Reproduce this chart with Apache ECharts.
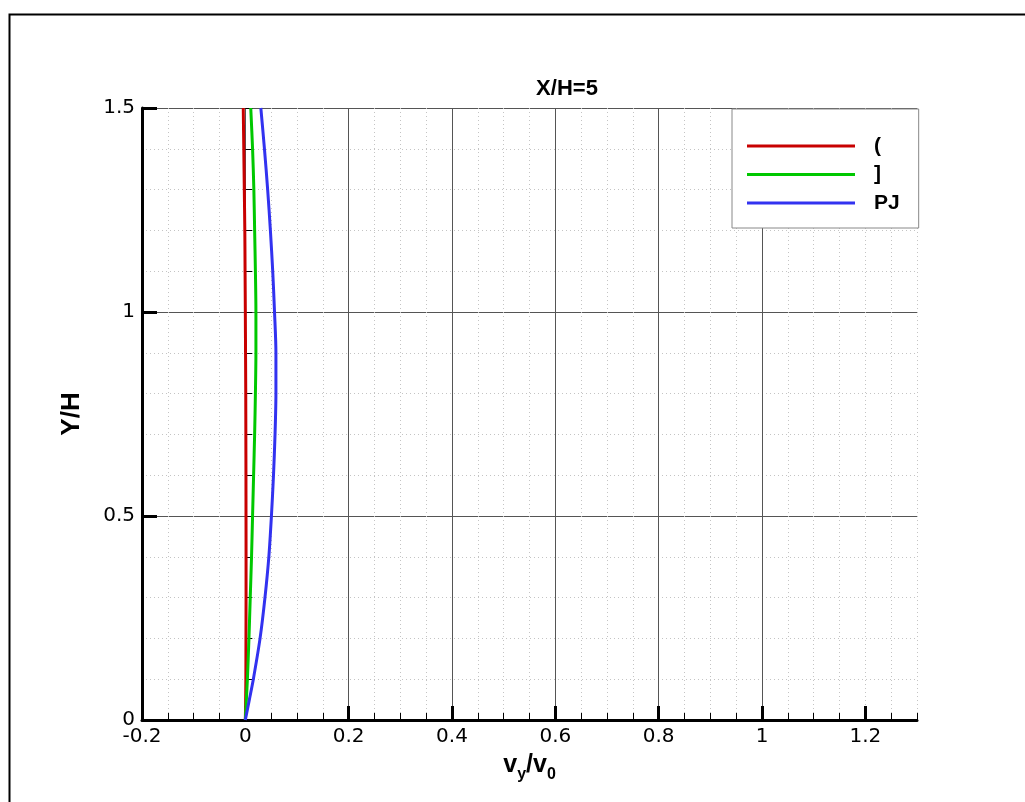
<!DOCTYPE html>
<html>
<head>
<meta charset="utf-8">
<script src="https://cdn.jsdelivr.net/npm/echarts@6/dist/echarts.min.js"></script>
<style>html,body{margin:0;padding:0;background:#fff;}#c{width:1025px;height:802px;}</style>
</head>
<body>
<div id="c"></div>
<script>
// ---- data ----
const titleText = 'X/H=5';
const seriesNames = ['(', ']', 'PJ'];
const yValues = [0, 0.05, 0.1, 0.2, 0.3, 0.4, 0.5, 0.6, 0.7, 0.8, 0.9, 1.0, 1.1, 1.2, 1.3, 1.4, 1.5];
const redX   = [0, 0.0006, 0.001, 0.0012, 0.0014, 0.0014, 0.0013, 0.0012, 0.001, 0.0008, 0.0004, 0.0, -0.0005, -0.001, -0.002, -0.003, -0.004];
const greenX = [0, 0.002, 0.004, 0.007, 0.0095, 0.012, 0.014, 0.016, 0.018, 0.0195, 0.0205, 0.0205, 0.0195, 0.018, 0.0165, 0.014, 0.0105];
const blueX  = [0, 0.0078, 0.0155, 0.0285, 0.038, 0.0455, 0.0505, 0.0545, 0.0575, 0.0592, 0.0592, 0.0565, 0.053, 0.0485, 0.0432, 0.037, 0.030];
const xMajorTicks = [-0.2, 0, 0.2, 0.4, 0.6, 0.8, 1, 1.2];

const colors = ['#c80000', '#00c800', '#3232f0'];
const font = 'Liberation Sans, Arial, Helvetica, sans-serif';
const tickFont = 'DejaVu Sans, Liberation Sans, sans-serif';

function pairs(xs) { return xs.map((x, i) => [x, yValues[i]]); }

const chart = echarts.init(document.getElementById('c'), null, {renderer: 'canvas'});
const grid = {left: 142, top: 108, width: 775, height: 612, containLabel: false};

const option = {
  animation: false,
  backgroundColor: '#ffffff',
  title: {
    text: titleText, left: 562, top: 73, textAlign: 'center',
    textStyle: {fontFamily: font, fontWeight: 'bold', fontSize: 22, color: '#000'}
  },
  graphic: [{
    type: 'rect', left: 7, top: 12, silent: true, z: 100,
    shape: {width: 1100, height: 900},
    style: {fill: 'none', stroke: '#000', lineWidth: 2}
  }],
  legend: {
    orient: 'vertical', left: 732, top: 109,
    padding: [25, 19, 13, 15],
    icon: 'rect',
    itemWidth: 108, itemHeight: 3, itemGap: 4.5,
    backgroundColor: '#fff', borderColor: '#888', borderWidth: 1,
    textStyle: {fontFamily: font, fontWeight: 'bold', fontSize: 21, color: '#000', lineHeight: 24, padding: [0, 0, 0, 14]},
    data: seriesNames
  },
  grid: grid,
  xAxis: [
    { // minor
      type: 'value', min: -0.2, max: 1.3, interval: 0.05, position: 'bottom',
      axisLine: {show: false},
      axisLabel: {show: false},
      axisTick: {show: true, inside: true, length: 7, lineStyle: {color: '#000', width: 1}},
      splitLine: {show: true, showMinLine: false, lineStyle: {color: '#c4c4c4', type: [1, 3], width: 1}}
    },
    { // major
      type: 'value', min: -0.2, max: 1.3, interval: 0.2, position: 'bottom',
      name: '{a|v}{b|y}{a|/v}{b|0}', nameLocation: 'middle', nameGap: 30,
      nameTextStyle: {
        rich: {
          a: {fontFamily: font, fontWeight: 'bold', fontSize: 25, color: '#000', lineHeight: 30, verticalAlign: 'middle'},
          b: {fontFamily: font, fontWeight: 'bold', fontSize: 16, color: '#000', lineHeight: 16, verticalAlign: 'bottom', padding: [0, 0, -3, 0]}
        }
      },
      axisLine: {show: true, onZero: false, lineStyle: {color: '#000', width: 3}},
      axisTick: {show: true, inside: true, length: 14, customValues: xMajorTicks, lineStyle: {color: '#000', width: 3}},
      axisLabel: {show: true, customValues: xMajorTicks, margin: 7, fontFamily: tickFont, fontSize: 20, color: '#000'},
      splitLine: {show: true, showMinLine: false, showMaxLine: false, lineStyle: {color: '#555', width: 1}}
    }
  ],
  yAxis: [
    { // minor
      type: 'value', min: 0, max: 1.5, interval: 0.1, position: 'left',
      axisLine: {show: false},
      axisLabel: {show: false},
      axisTick: {show: true, inside: true, length: 7, lineStyle: {color: '#000', width: 1}},
      splitLine: {show: true, showMinLine: false, lineStyle: {color: '#c4c4c4', type: [1, 3], width: 1}}
    },
    { // major
      type: 'value', min: 0, max: 1.5, interval: 0.5, position: 'left',
      name: 'Y/H', nameLocation: 'middle', nameGap: 57,
      nameTextStyle: {fontFamily: font, fontWeight: 'bold', fontSize: 26, color: '#000'},
      axisLine: {show: true, onZero: false, lineStyle: {color: '#000', width: 3}},
      axisTick: {show: true, inside: true, length: 15, lineStyle: {color: '#000', width: 3}},
      axisLabel: {show: true, margin: 7, fontFamily: tickFont, fontSize: 20, color: '#000'},
      splitLine: {show: true, showMinLine: false, lineStyle: {color: '#555', width: 1}}
    }
  ],
  series: [
    {name: seriesNames[0], type: 'line', xAxisIndex: 1, yAxisIndex: 1, data: pairs(redX), symbol: 'none', smooth: 0.3, lineStyle: {color: colors[0], width: 3}, itemStyle: {color: colors[0]}},
    {name: seriesNames[1], type: 'line', xAxisIndex: 1, yAxisIndex: 1, data: pairs(greenX), symbol: 'none', smooth: 0.3, lineStyle: {color: colors[1], width: 3}, itemStyle: {color: colors[1]}},
    {name: seriesNames[2], type: 'line', xAxisIndex: 1, yAxisIndex: 1, data: pairs(blueX), symbol: 'none', smooth: 0.3, lineStyle: {color: colors[2], width: 3}, itemStyle: {color: colors[2]}}
  ]
};
chart.setOption(option);
</script>
</body>
</html>
